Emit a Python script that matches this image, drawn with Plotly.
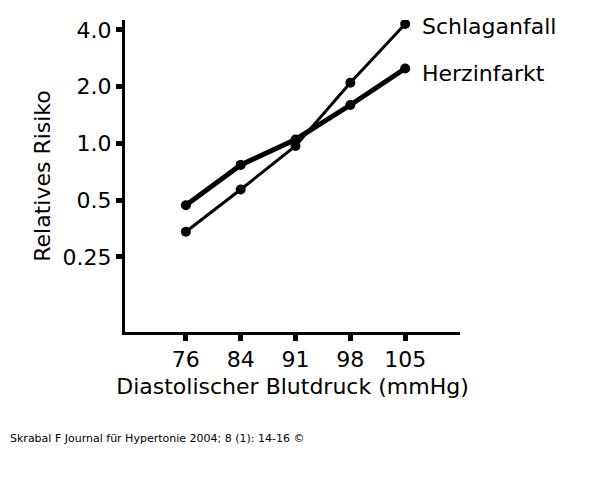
import plotly.graph_objects as go

bp = ["76", "84", "91", "98", "105"]
schlaganfall = [0.34, 0.57, 0.97, 2.1, 4.3]
herzinfarkt = [0.47, 0.77, 1.05, 1.6, 2.5]
ytick_vals = [0.25, 0.5, 1.0, 2.0, 4.0]
ytick_text = ["0.25", "0.5", "1.0", "2.0", "4.0"]

xs = list(range(len(bp)))
fig = go.Figure()
fig.add_trace(go.Scatter(x=xs, y=herzinfarkt, mode="lines+markers",
                         line=dict(color="black", width=5),
                         marker=dict(color="black", size=10)))
fig.add_trace(go.Scatter(x=xs, y=schlaganfall, mode="lines+markers",
                         line=dict(color="black", width=3),
                         marker=dict(color="black", size=10)))

fnt = dict(family="DejaVu Sans", size=22, color="black")
fig.update_layout(
    width=600, height=488, showlegend=False,
    plot_bgcolor="white", paper_bgcolor="white",
    margin=dict(l=117, r=148, t=10, b=164),
    font=fnt,
    xaxis=dict(range=[-1.11, 5.0], tickvals=xs, ticktext=bp,
               showline=True, linecolor="black", linewidth=3,
               ticks="outside", ticklen=6, tickwidth=5, tickcolor="black",
               showgrid=False, zeroline=False,
               title=dict(text="Diastolischer Blutdruck (mmHg)", font=fnt, standoff=8)),
    yaxis=dict(type="log", range=[-1.0, 0.655], tickvals=ytick_vals, ticktext=ytick_text,
               showline=True, linecolor="black", linewidth=3,
               ticks="outside", ticklen=6, tickwidth=5, tickcolor="black",
               showgrid=False, zeroline=False,
               title=dict(text="Relatives Risiko", font=fnt, standoff=6)),
)
fig.add_annotation(x=0.88, y=0.978, xref="paper", yref="paper", text="Schlaganfall",
                   xanchor="left", yanchor="middle", showarrow=False, font=fnt)
fig.add_annotation(x=0.88, y=0.828, xref="paper", yref="paper", text="Herzinfarkt",
                   xanchor="left", yanchor="middle", showarrow=False, font=fnt)
fig.add_annotation(x=0, y=0, xref="paper", yref="paper", xanchor="left",
                   yanchor="top", text="Skrabal F Journal für Hypertonie 2004; 8 (1): 14-16 ©",
                   showarrow=False, font=dict(family="DejaVu Sans", size=11, color="black"),
                   xshift=-117, yshift=-98)
fig.write_html("out.html")
